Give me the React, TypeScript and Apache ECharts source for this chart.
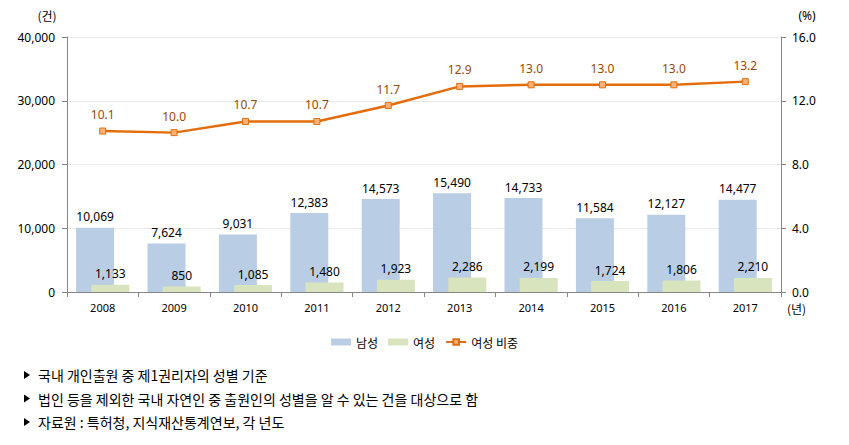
import React, { useEffect, useRef } from "react";
import * as echarts from "echarts";

const years = ["2008", "2009", "2010", "2011", "2012", "2013", "2014", "2015", "2016", "2017"];
const maleCounts = [10069, 7624, 9031, 12383, 14573, 15490, 14733, 11584, 12127, 14477];
const femaleCounts = [1133, 850, 1085, 1480, 1923, 2286, 2199, 1724, 1806, 2210];
const femaleShare = [10.1, 10.0, 10.7, 10.7, 11.7, 12.9, 13.0, 13.0, 13.0, 13.2];
const seriesNames = ["남성", "여성", "여성 비중"];
const notes = [
  "국내 개인출원 중 제1권리자의 성별 기준",
  "법인 등을 제외한 국내 자연인 중 출원인의 성별을 알 수 있는 건을 대상으로 함",
  "자료원 : 특허청, 지식재산통계연보, 각 년도",
];

const FONT = "'Noto Sans', 'Noto Sans CJK KR', sans-serif";
const KFONT = "'Noto Sans CJK KR', sans-serif";

export default function App() {
  const ref = useRef<HTMLDivElement>(null);
  useEffect(() => {
    document.body.style.margin = "0";
    const chart = echarts.init(ref.current!, null, { renderer: "svg" });
    const fmt = (v: number) => v.toLocaleString("en-US");
    const noteGraphics: any[] = [];
    notes.forEach((t, i) => {
      const y = 375 + i * 23.5;
      noteGraphics.push({
        type: "polygon",
        shape: { points: [[24, y - 4], [24, y + 4], [30, y]] },
        style: { fill: "#000" },
      });
      noteGraphics.push({
        type: "text",
        x: 38,
        y,
        style: { text: t, fontSize: 14, fontFamily: KFONT, fill: "#000", textVerticalAlign: "middle", textAlign: "left" },
      });
    });
    chart.setOption({
      animation: false,
      textStyle: { fontFamily: FONT },
      grid: { left: 67, right: 68, top: 37, bottom: 153, containLabel: false },
      legend: {
        top: 331,
        left: "center",
        itemWidth: 20,
        itemHeight: 7,
        itemGap: 10,
        textStyle: { fontSize: 12, color: "#000", fontFamily: KFONT },
        data: [
          { name: seriesNames[0], icon: "rect" },
          { name: seriesNames[1], icon: "rect" },
          { name: seriesNames[2] },
        ],
      },
      xAxis: {
        type: "category",
        data: years,
        axisLine: { lineStyle: { color: "#868686" } },
        axisTick: { show: true, length: 5, lineStyle: { color: "#868686" } },
        axisLabel: { fontSize: 11, color: "#000", margin: 10 },
      },
      yAxis: [
        {
          type: "value",
          min: 0,
          max: 40000,
          interval: 10000,
          axisLine: { show: true, lineStyle: { color: "#868686" } },
          axisTick: { show: true, length: 5, lineStyle: { color: "#868686" } },
          axisLabel: { fontSize: 12, color: "#000", margin: 12, formatter: (v: number) => fmt(v) },
          splitLine: { lineStyle: { color: "#e8e8e8" } },
        },
        {
          type: "value",
          min: 0,
          max: 16,
          interval: 4,
          axisLine: { show: true, lineStyle: { color: "#868686" } },
          axisTick: { show: true, length: 5, lineStyle: { color: "#868686" } },
          axisLabel: { fontSize: 12, color: "#000", margin: 11, formatter: (v: number) => v.toFixed(1) },
          splitLine: { show: false },
        },
      ],
      series: [
        {
          name: seriesNames[0],
          type: "bar",
          data: maleCounts,
          barWidth: 38,
          barGap: "-60%",
          itemStyle: { color: "#b9cde5" },
          label: { show: true, position: "top", distance: 5, fontSize: 12, color: "#000", formatter: (p: any) => fmt(p.value) },
        },
        {
          name: seriesNames[1],
          type: "bar",
          data: femaleCounts,
          barWidth: 38,
          itemStyle: { color: "#d7e4bd" },
          label: { show: true, position: "top", distance: 5, fontSize: 12, color: "#000", formatter: (p: any) => fmt(p.value) },
        },
        {
          name: seriesNames[2],
          type: "line",
          yAxisIndex: 1,
          data: femaleShare,
          symbol: "rect",
          symbolSize: 6,
          lineStyle: { color: "#e46c0a", width: 2.5 },
          itemStyle: { color: "#f9b27a", borderColor: "#e46c0a", borderWidth: 1 },
          label: { show: true, position: "top", distance: 7, fontSize: 12, color: "#984807", formatter: (p: any) => p.value.toFixed(1) },
          z: 5,
        },
      ],
      graphic: [
        { type: "text", x: 47, y: 15, style: { text: "(건)", fontSize: 12, fontFamily: KFONT, fill: "#000", textAlign: "center", textVerticalAlign: "middle" } },
        { type: "text", x: 807, y: 15, style: { text: "(%)", fontSize: 12, fontFamily: FONT, fill: "#000", textAlign: "center", textVerticalAlign: "middle" } },
        { type: "text", x: 787, y: 308, style: { text: "(년)", fontSize: 12, fontFamily: KFONT, fill: "#000", textAlign: "left", textVerticalAlign: "middle" } },
        ...noteGraphics,
      ],
    });
    return () => chart.dispose();
  }, []);
  return <div ref={ref} style={{ width: 849, height: 445 }} />;
}
